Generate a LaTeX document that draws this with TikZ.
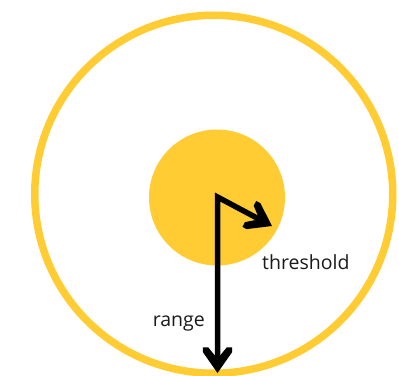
\documentclass[tikz,border=0pt]{standalone}
\usepackage{fontspec}
\setmainfont{Open Sans}
\usetikzlibrary{arrows.meta}
\definecolor{sun}{HTML}{FFCC33}
\definecolor{ink}{HTML}{1A1A1A}
% bold chevron tip with short flat cuts at the wing ends
\pgfdeclarearrow{
  name=Chevron,
  setup code={
    \pgfarrowssettipend{0pt}
    \pgfarrowssetbackend{-25.7bp}
    \pgfarrowssetlineend{-14bp}
    \pgfarrowshullpoint{0pt}{0pt}
    \pgfarrowshullpoint{-25.7bp}{14.7bp}
    \pgfarrowshullpoint{-25.7bp}{-14.7bp}
  },
  drawing code={
    \pgfpathmoveto{\pgfpoint{0bp}{0bp}}
    \pgfpathlineto{\pgfpoint{-21bp}{14.7bp}}
    \pgfpathlineto{\pgfpoint{-25.7bp}{14.7bp}}
    \pgfpathlineto{\pgfpoint{-25.7bp}{9.3bp}}
    \pgfpathlineto{\pgfpoint{-17bp}{2.2bp}}
    \pgfpathlineto{\pgfpoint{-17bp}{-2.2bp}}
    \pgfpathlineto{\pgfpoint{-25.7bp}{-9.3bp}}
    \pgfpathlineto{\pgfpoint{-25.7bp}{-14.7bp}}
    \pgfpathlineto{\pgfpoint{-21bp}{-14.7bp}}
    \pgfpathclose
    \pgfusepathqfill
  }
}
\tikzset{
  ring/.style={draw=sun, line width=7.5bp},
  core/.style={fill=sun},
  vector/.style={line width=5.5bp, line join=miter, draw=black, Chevron-Chevron},
  lbl/.style={text=ink, font=\fontsize{19.5bp}{22bp}\selectfont, inner sep=0pt}
}
\begin{document}
\begin{tikzpicture}[x=1bp, y=-1bp]
  \useasboundingbox (0,0) rectangle (399,376);
  % outer range ring and inner threshold disc
  \draw[ring] (213.75,194.25) circle [radius=179];
  \fill[core] (217,197.5) circle [radius=68];
  % shared origin of both vectors
  \coordinate (origin) at (217.5,197);
  \coordinate (thrEnd) at (272,226);
  \coordinate (rangeEnd) at (217.5,373);
  \draw[vector] (thrEnd) -- (origin) -- (rangeEnd);
  % labels
  \node[lbl, anchor=base west] (thr) at (262,269) {threshold};
  \node[lbl, anchor=base east] (rng) at (205,326) {range};
\end{tikzpicture}
\end{document}
